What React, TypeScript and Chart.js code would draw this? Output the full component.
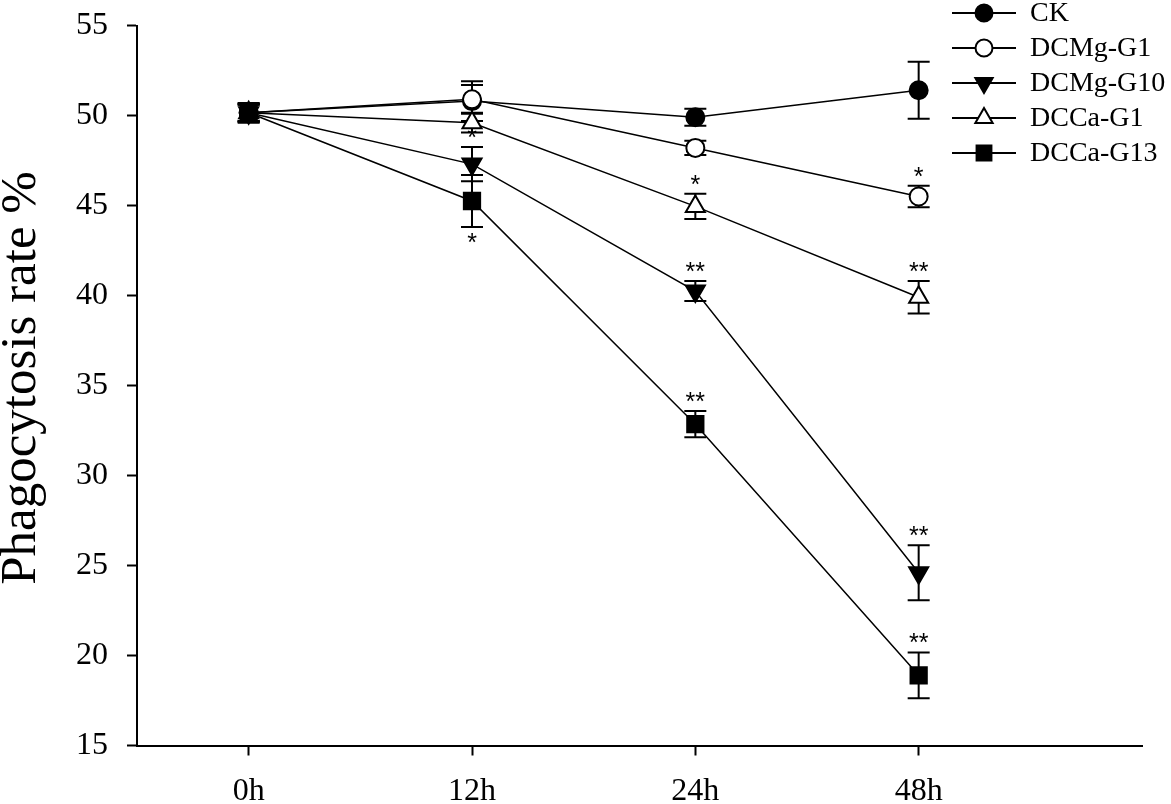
import { useEffect, useRef } from "react"
import { Chart, registerables } from "chart.js"
import { drawPoint } from "chart.js/helpers"

Chart.register(...registerables)

// x categories and y tick values
const timePoints = ["0h", "12h", "24h", "48h"]
const yTickValues = [15, 20, 25, 30, 35, 40, 45, 50, 55]

// phagocytosis rate (%) and error bars
const ckValues = [50.15, 50.8, 49.9, 51.4]
const ckErrors = [0.55, 1.1, 0.47, 1.58]
const dcmgG1Values = [50.15, 50.9, 48.2, 45.5]
const dcmgG1Errors = [0.5, 0.8, 0.4, 0.6]
const dcmgG10Values = [50.15, 47.3, 40.25, 24.6]
const dcmgG10Errors = [0.45, 0.95, 0.55, 1.53]
const dccaG1Values = [50.15, 49.6, 44.95, 39.9]
const dccaG1Errors = [0.45, 0.55, 0.7, 0.9]
const dccaG13Values = [50.15, 45.25, 32.85, 18.9]
const dccaG13Errors = [0.5, 1.45, 0.73, 1.27]

// significance marks ("" = none) and which ones sit below the bar
const ckMarks = ["", "", "", ""]
const dcmgG1Marks = ["", "", "", "*"]
const dcmgG10Marks = ["", "*", "**", "**"]
const dccaG1Marks = ["", "", "*", "**"]
const dccaG13Marks = ["", "*", "**", "**"]
const dccaG13MarkBelow = [false, true, false, false]
const noneBelow = [false, false, false, false]

const FONT = "'Liberation Serif', 'Times New Roman', serif"

const series = [
  { label: "CK", values: ckValues, errors: ckErrors, marks: ckMarks, below: noneBelow,
    style: "circle", rotation: 0, fill: "#000", radius: 9, legendRadius: 8.5 },
  { label: "DCMg-G1", values: dcmgG1Values, errors: dcmgG1Errors, marks: dcmgG1Marks, below: noneBelow,
    style: "circle", rotation: 0, fill: "#fff", radius: 9, legendRadius: 8.5 },
  { label: "DCMg-G10", values: dcmgG10Values, errors: dcmgG10Errors, marks: dcmgG10Marks, below: noneBelow,
    style: "triangle", rotation: 180, fill: "#000", radius: 11, legendRadius: 10 },
  { label: "DCCa-G1", values: dccaG1Values, errors: dccaG1Errors, marks: dccaG1Marks, below: noneBelow,
    style: "triangle", rotation: 0, fill: "#fff", radius: 11, legendRadius: 10 },
  { label: "DCCa-G13", values: dccaG13Values, errors: dccaG13Errors, marks: dccaG13Marks, below: dccaG13MarkBelow,
    style: "rect", rotation: 0, fill: "#000", radius: 11.5, legendRadius: 10.5 },
]

const errorBarPlugin = {
  id: "errorBars",
  beforeDatasetsDraw(chart: any) {
    const { ctx } = chart
    const xs = chart.scales.x
    const ys = chart.scales.y
    ctx.save()
    ctx.strokeStyle = "#000"
    ctx.lineWidth = 2
    series.forEach((s) => {
      s.values.forEach((v, i) => {
        const px = xs.getPixelForValue(i)
        const top = ys.getPixelForValue(v + s.errors[i])
        const bot = ys.getPixelForValue(v - s.errors[i])
        ctx.beginPath()
        ctx.moveTo(px, top)
        ctx.lineTo(px, bot)
        ctx.moveTo(px - 11, top)
        ctx.lineTo(px + 11, top)
        ctx.moveTo(px - 11, bot)
        ctx.lineTo(px + 11, bot)
        ctx.stroke()
      })
    })
    ctx.restore()
  },
  afterDatasetsDraw(chart: any) {
    const { ctx } = chart
    const xs = chart.scales.x
    const ys = chart.scales.y
    ctx.save()
    ctx.fillStyle = "#000"
    ctx.font = "25px 'Liberation Sans', Arial, sans-serif"
    ctx.textAlign = "center"
    ctx.textBaseline = "alphabetic"
    series.forEach((s) => {
      s.marks.forEach((m, i) => {
        if (!m) return
        const px = xs.getPixelForValue(i)
        if (s.below[i]) {
          const bot = ys.getPixelForValue(s.values[i] - s.errors[i])
          ctx.fillText(m, px, bot + 24)
        } else {
          const top = ys.getPixelForValue(s.values[i] + s.errors[i])
          ctx.fillText(m, px, top - 1)
        }
      })
    })
    ctx.restore()
  },
  afterDraw(chart: any) {
    const { ctx } = chart
    ctx.save()
    // y axis title
    ctx.fillStyle = "#000"
    ctx.font = `51px ${FONT}`
    ctx.translate(35, 378)
    ctx.rotate(-Math.PI / 2)
    ctx.textAlign = "center"
    ctx.textBaseline = "alphabetic"
    ctx.fillText("Phagocytosis rate %", 0, 0)
    ctx.restore()

    // legend: line through marker, then label
    ctx.save()
    series.forEach((s, i) => {
      const ly = 13 + i * 35
      ctx.strokeStyle = "#000"
      ctx.lineWidth = 2
      ctx.beginPath()
      ctx.moveTo(952, ly)
      ctx.lineTo(1016, ly)
      ctx.stroke()
      ctx.fillStyle = s.fill
      ctx.strokeStyle = "#000"
      ctx.lineWidth = 2
      drawPoint(ctx, { pointStyle: s.style, rotation: s.rotation, radius: s.legendRadius, borderWidth: 2 } as any, 984, ly)
      ctx.fillStyle = "#000"
      ctx.font = `28px ${FONT}`
      ctx.textAlign = "left"
      ctx.textBaseline = "middle"
      ctx.fillText(s.label, 1030, ly + 1)
    })
    ctx.restore()
  },
}

export default function App() {
  const chartRef = useRef<HTMLCanvasElement>(null)
  const chartInstance = useRef<Chart | null>(null)

  useEffect(() => {
    if (!chartRef.current) return
    const ctx = chartRef.current.getContext("2d")
    if (!ctx) return

    if (chartInstance.current) {
      chartInstance.current.destroy()
    }

    chartInstance.current = new Chart(ctx, {
      type: "line",
      data: {
        datasets: series.map((s, i) => ({
          label: s.label,
          data: s.values.map((v, j) => ({ x: j, y: v })),
          borderColor: "#000",
          borderWidth: 1.5,
          backgroundColor: s.fill,
          pointStyle: s.style as any,
          pointRotation: s.rotation,
          pointRadius: s.radius,
          pointBorderWidth: 2,
          pointBorderColor: "#000",
          pointBackgroundColor: s.fill,
          order: series.length - i,
          tension: 0,
          fill: false,
        })),
      },
      options: {
        animation: false,
        responsive: true,
        maintainAspectRatio: false,
        layout: { padding: { left: 0, top: 25.5, right: 29, bottom: 0 } },
        plugins: {
          legend: { display: false },
          tooltip: { enabled: false },
        },
        scales: {
          x: {
            type: "linear",
            min: -0.5,
            max: 4,
            afterBuildTicks: (scale: any) => {
              scale.ticks = timePoints.map((_, i) => ({ value: i }))
            },
            afterFit: (scale: any) => {
              scale.height = 58.5
              scale.paddingLeft = 0
              scale.paddingRight = 0
            },
            ticks: {
              callback: (value: any) => timePoints[value] ?? "",
              color: "#000",
              font: { family: FONT, size: 32 },
              padding: 17,
              autoSkip: false,
              maxRotation: 0,
            },
            grid: {
              drawOnChartArea: false,
              drawTicks: true,
              tickLength: 10,
              tickWidth: 2,
              tickColor: "#000",
            },
            border: { color: "#000", width: 2 },
          },
          y: {
            type: "linear",
            min: 15,
            max: 55,
            afterBuildTicks: (scale: any) => {
              scale.ticks = yTickValues.map((v) => ({ value: v }))
            },
            afterFit: (scale: any) => {
              scale.width = 137
              scale.paddingTop = 0
              scale.paddingBottom = 0
            },
            ticks: {
              color: "#000",
              font: { family: FONT, size: 32 },
              padding: 19,
            },
            grid: {
              drawOnChartArea: false,
              drawTicks: true,
              tickLength: 10,
              tickWidth: 2,
              tickColor: "#000",
            },
            border: { color: "#000", width: 2 },
          },
        },
      },
      plugins: [errorBarPlugin],
    })

    return () => {
      if (chartInstance.current) {
        chartInstance.current.destroy()
        chartInstance.current = null
      }
    }
  }, [])

  return (
    <div style={{ position: "absolute", left: 0, top: 0, width: 1171, height: 804, background: "#fff" }}>
      <canvas ref={chartRef} />
    </div>
  )
}
